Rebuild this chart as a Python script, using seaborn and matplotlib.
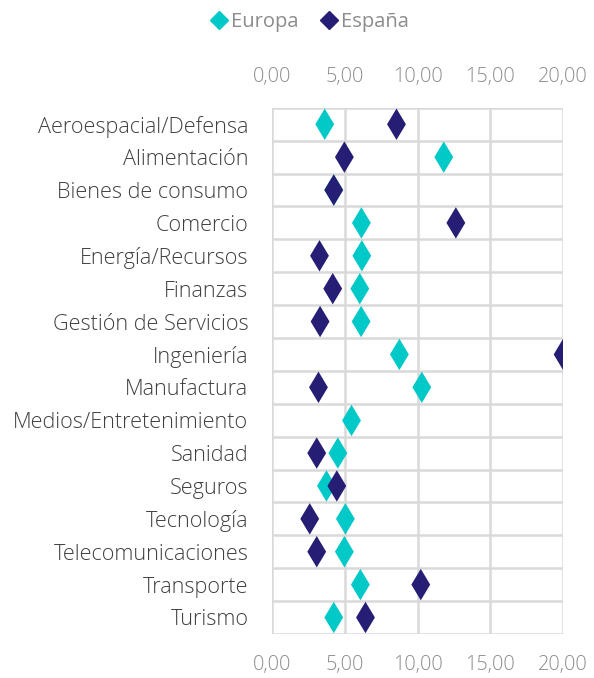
import matplotlib
matplotlib.use("Agg")
import matplotlib.pyplot as plt
import seaborn as sns
import numpy as np
import pandas as pd
from matplotlib.lines import Line2D

sectores = ["Aeroespacial/Defensa", "Alimentación", "Bienes de consumo", "Comercio",
            "Energía/Recursos", "Finanzas", "Gestión de Servicios", "Ingeniería",
            "Manufactura", "Medios/Entretenimiento", "Sanidad", "Seguros",
            "Tecnología", "Telecomunicaciones", "Transporte", "Turismo"]
europa = [3.62, 11.8, 4.24, 6.14, 6.17, 6.03, 6.12, 8.75,
          10.29, 5.41, 4.52, 3.74, 5.04, 4.97, 6.07, 4.24]
espana = [8.55, 4.97, 4.24, 12.63, 3.26, 4.17, 3.30, 20.0,
          3.19, np.nan, 3.07, 4.45, 2.59, 3.07, 10.22, 6.42]
ticks = [0, 5, 10, 15, 20]
tick_labels = ["0,00", "5,00", "10,00", "15,00", "20,00"]

colores = {"Europa": "#00C9C8", "España": "#251E74"}

df = pd.DataFrame({
    "sector": sectores * 2,
    "valor": europa + espana,
    "serie": ["Europa"] * len(sectores) + ["España"] * len(sectores),
})

sns.set_style("white")
plt.rcParams["font.family"] = ["Open Sans", "DejaVu Sans"]

fig = plt.figure(figsize=(5.94, 6.78), dpi=100)
ax = fig.add_axes([0.458, 0.065, 0.49, 0.776])

sns.stripplot(data=df, x="valor", y="sector", hue="serie", order=sectores,
              palette=colores, marker="d", size=16, jitter=False, dodge=False,
              linewidth=0, ax=ax, legend=False, zorder=3)

ax.set_xlim(0, 20)
ax.set_ylim(len(sectores) - 0.5, -0.5)
ax.set_xticks(ticks)
ax.set_xticklabels(tick_labels)
ax.set_xlabel("")
ax.set_ylabel("")

grid_col = "#D9D9D9"
for x in ticks:
    ax.axvline(x, color=grid_col, lw=1.8, zorder=1)
for y in np.arange(-0.5, len(sectores), 1):
    ax.axhline(y, color=grid_col, lw=1.8, zorder=1)
for s in ax.spines.values():
    s.set_visible(False)

ax.tick_params(axis="x", top=True, labeltop=True, bottom=True, labelbottom=True,
               length=0, pad=15, labelsize=14.3, labelcolor="#8C8C8C")
ax.tick_params(axis="y", length=0, pad=17, labelsize=15.6, labelcolor="#404040")
for lbl in ax.get_xticklabels() + ax.get_yticklabels():
    lbl.set_fontweight("light")

handles = [Line2D([], [], marker="D", ls="", color=colores[k], markersize=9) for k in colores]
fig.legend(handles, list(colores), loc="center", bbox_to_anchor=(0.52, 0.968), ncol=2,
           frameon=False, fontsize=14.5, labelcolor="#8C8C8C", handletextpad=0.1,
           columnspacing=1.0, handlelength=1.0)

fig.savefig("out.png", dpi=100)
